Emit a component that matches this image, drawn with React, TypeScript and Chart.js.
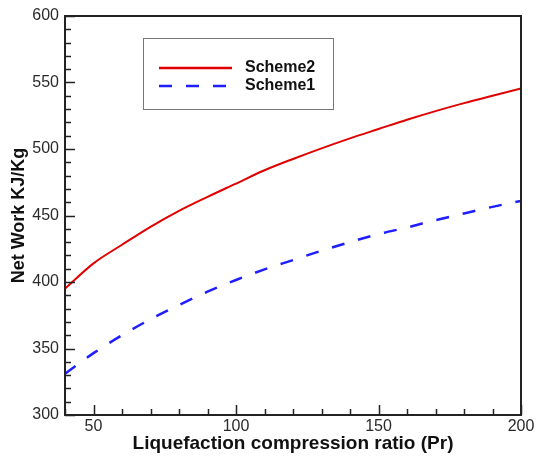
import React, { useEffect, useRef } from "react";
import { Chart, registerables } from "chart.js";

Chart.register(...registerables);

const pressureRatios = [40, 50, 60, 70, 80, 90, 100, 110, 120, 130, 140, 150, 160, 170, 180, 190, 200];
const scheme2 = [395, 414, 428, 441.5, 453.5, 464, 474, 484, 492.5, 500.5, 508, 515, 522, 528.5, 534.5, 540, 545.5];
const scheme1 = [331, 346.5, 360, 372, 382.7, 392.7, 401.5, 409.5, 416.5, 423.5, 430, 436, 441, 446.5, 451.5, 456.5, 461];
const xTickLabels = [50, 100, 150, 200];
const xMinorTicks = [40, 60, 70, 80, 90, 110, 120, 130, 140, 160, 170, 180, 190];
const yTickLabels = [300, 350, 400, 450, 500, 550, 600];
const yMinorStep = 10;

const FONT = "'Liberation Sans', Arial, Helvetica, sans-serif";
const RED = "#e00000";
const BLUE = "#1e1eff";
const DASH = [13, 14];

const framePlugin = {
  id: "frameAndTicks",
  afterDatasetsDraw(chart: any) {
    const { ctx, chartArea, scales } = chart;
    const { left, right, top, bottom } = chartArea;
    ctx.save();
    ctx.strokeStyle = "#222";
    ctx.lineWidth = 1.5;
    ctx.beginPath();
    xTickLabels.forEach((v) => {
      const px = Math.round(scales.x.getPixelForValue(v)) + 0.5;
      ctx.moveTo(px, bottom);
      ctx.lineTo(px, bottom - 10);
    });
    xMinorTicks.forEach((v) => {
      const px = Math.round(scales.x.getPixelForValue(v)) + 0.5;
      ctx.moveTo(px, bottom);
      ctx.lineTo(px, bottom - 6);
    });
    for (let v = yTickLabels[0]; v <= yTickLabels[yTickLabels.length - 1]; v += yMinorStep) {
      const py = Math.round(scales.y.getPixelForValue(v)) + 0.5;
      const major = yTickLabels.includes(v);
      ctx.moveTo(left, py);
      ctx.lineTo(left + (major ? 10 : 6), py);
    }
    ctx.stroke();
    ctx.lineWidth = 2;
    ctx.strokeStyle = "#222";
    ctx.strokeRect(left, top, right - left, bottom - top);
    ctx.restore();
  },
  afterDraw(chart: any) {
    const { ctx } = chart;
    ctx.save();
    ctx.strokeStyle = "#777";
    ctx.lineWidth = 1;
    ctx.strokeRect(143.5, 38.5, 190, 71);
    const items = [
      { label: chart.data.datasets[0].label, color: RED, dash: [] as number[], y: 68 },
      { label: chart.data.datasets[1].label, color: BLUE, dash: DASH, y: 86 },
    ];
    items.forEach((it) => {
      ctx.beginPath();
      ctx.setLineDash(it.dash);
      ctx.strokeStyle = it.color;
      ctx.lineWidth = 2.5;
      ctx.moveTo(159, it.y);
      ctx.lineTo(232, it.y);
      ctx.stroke();
      ctx.setLineDash([]);
      ctx.fillStyle = "#111";
      ctx.font = `bold 16px ${FONT}`;
      ctx.textBaseline = "middle";
      ctx.textAlign = "left";
      ctx.fillText(it.label, 245, it.y);
    });
    ctx.restore();
  },
};

export default function App() {
  const canvasRef = useRef<HTMLCanvasElement | null>(null);

  useEffect(() => {
    const canvas = canvasRef.current;
    if (!canvas) return;
    const chart = new Chart(canvas, {
      type: "line",
      data: {
        labels: pressureRatios,
        datasets: [
          {
            label: "Scheme2",
            data: pressureRatios.map((x, i) => ({ x, y: scheme2[i] })),
            borderColor: RED,
            borderWidth: 2,
            pointRadius: 0,
            fill: false,
            cubicInterpolationMode: "monotone",
          },
          {
            label: "Scheme1",
            data: pressureRatios.map((x, i) => ({ x, y: scheme1[i] })),
            borderColor: BLUE,
            borderWidth: 2.5,
            borderDash: DASH,
            pointRadius: 0,
            fill: false,
            cubicInterpolationMode: "monotone",
          },
        ],
      },
      options: {
        animation: false,
        responsive: false,
        devicePixelRatio: 1,
        layout: { padding: { top: 16, right: 16, left: 0, bottom: 0 } },
        plugins: {
          legend: { display: false },
          tooltip: { enabled: false },
        },
        scales: {
          x: {
            type: "linear",
            min: 40,
            max: 200,
            grid: { display: false, drawTicks: false },
            border: { display: false },
            afterBuildTicks: (scale: any) => {
              scale.ticks = xTickLabels.map((v) => ({ value: v }));
            },
            afterFit: (scale: any) => {
              scale.height = 42;
            },
            ticks: {
              color: "#2a2a2a",
              padding: 2,
              maxRotation: 0,
              autoSkip: false,
              font: { family: FONT, size: 16 },
            },
            title: {
              display: true,
              text: "Liquefaction compression ratio (Pr)",
              color: "#111",
              font: { family: FONT, size: 19, weight: "bold" },
              padding: { top: 0, bottom: 2 },
            },
          },
          y: {
            type: "linear",
            min: yTickLabels[0],
            max: yTickLabels[yTickLabels.length - 1],
            grid: { display: false, drawTicks: false },
            border: { display: false },
            afterBuildTicks: (scale: any) => {
              scale.ticks = yTickLabels.map((v) => ({ value: v }));
            },
            afterFit: (scale: any) => {
              scale.width = 65;
            },
            ticks: {
              color: "#2a2a2a",
              padding: 6,
              font: { family: FONT, size: 16 },
            },
            title: {
              display: true,
              text: "Net Work KJ/Kg",
              color: "#111",
              font: { family: FONT, size: 18, weight: "bold" },
              padding: { top: 8, bottom: 0 },
            },
          },
        },
      },
      plugins: [framePlugin],
    } as any);
    return () => chart.destroy();
  }, []);

  return (
    <div style={{ position: "fixed", left: 0, top: 0, width: 537, height: 457, background: "#fff" }}>
      <canvas ref={canvasRef} width={537} height={457} style={{ display: "block" }} />
    </div>
  );
}
